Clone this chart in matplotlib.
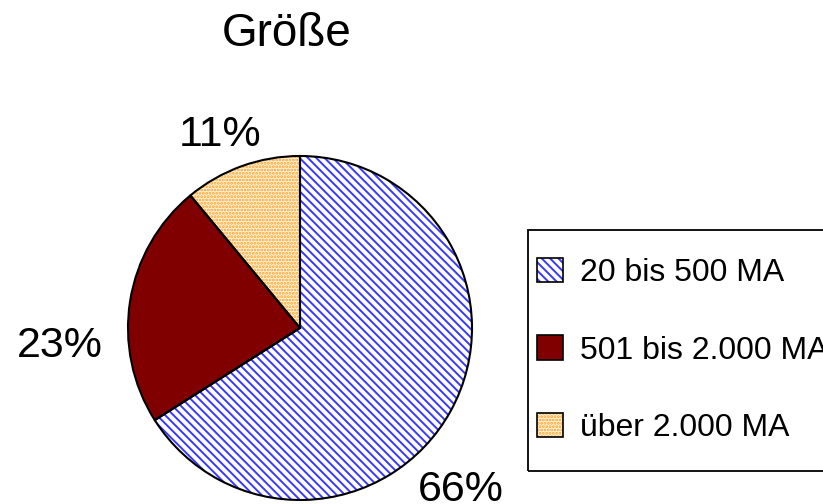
import matplotlib
matplotlib.use("Agg")
import matplotlib.pyplot as plt
from matplotlib.patches import Patch, Rectangle
from matplotlib.legend_handler import HandlerTuple

plt.rcParams['font.family'] = ['Liberation Sans', 'DejaVu Sans']
plt.rcParams['hatch.linewidth'] = 1.4

# data
categories = ["20 bis 500 MA", "501 bis 2.000 MA", "über 2.000 MA"]
shares = [66, 23, 11]
pct_labels = ["66%", "23%", "11%"]
title = "Größe"

# styles
face_colors = ["white", "#800000", "#FFF4E0"]
hatch_colors = ["#3838FF", "#800000", "#FFA020"]
hatches = ["\\\\\\\\", None, "....."]
label_pos = [(0.936, -0.942), (-1.395, -0.105), (-0.465, 1.122)]

fig = plt.figure(figsize=(8.23, 5.04), dpi=100)
ax = fig.add_axes([128 / 823, 4 / 504, 344 / 823, 344 / 504])

# first pass: fills + hatches (hatch colour comes from edgecolor)
wedges, _ = ax.pie(shares, startangle=90, counterclock=False, radius=1,
                   colors=face_colors)
for w, h, hc in zip(wedges, hatches, hatch_colors):
    w.set_hatch(h)
    w.set_edgecolor(hc)
    w.set_linewidth(0)

# second pass: black outlines
outline, _ = ax.pie(shares, startangle=90, counterclock=False, radius=1,
                    colors=["none"] * 3,
                    wedgeprops=dict(edgecolor="black", linewidth=1.5))

for txt, (x, y) in zip(pct_labels, label_pos):
    ax.text(x, y, txt, ha="center", va="center", fontsize=31)

ax.set_xlim(-1, 1)
ax.set_ylim(-1, 1)
ax.set_aspect("equal")
ax.axis("off")

fig.text(287 / 823, 1 - 34 / 504, title, ha="center", va="center", fontsize=33)

# legend frame (runs off the right edge like the original)
fig.patches.append(Rectangle((528 / 823, 1 - 471 / 504), 320 / 823, 241 / 504,
                             transform=fig.transFigure, facecolor="none",
                             edgecolor="black", linewidth=1.3))

handles = []
for fc, hc, h in zip(face_colors, hatch_colors, hatches):
    fill = Patch(facecolor=fc, hatch=h, edgecolor=hc, linewidth=0)
    edge = Patch(facecolor="none", edgecolor="black", linewidth=1.2)
    handles.append((fill, edge))
leg = fig.legend(handles, categories, loc="upper left",
                 handler_map={tuple: HandlerTuple(ndivide=1)},
                 bbox_to_anchor=(537 / 823, 1 - 258 / 504),
                 fontsize=23, frameon=False, labelspacing=1.47,
                 handlelength=0.8, handleheight=0.8, handletextpad=0.55,
                 borderpad=0, borderaxespad=0)

fig.savefig("out.png", dpi=100)
